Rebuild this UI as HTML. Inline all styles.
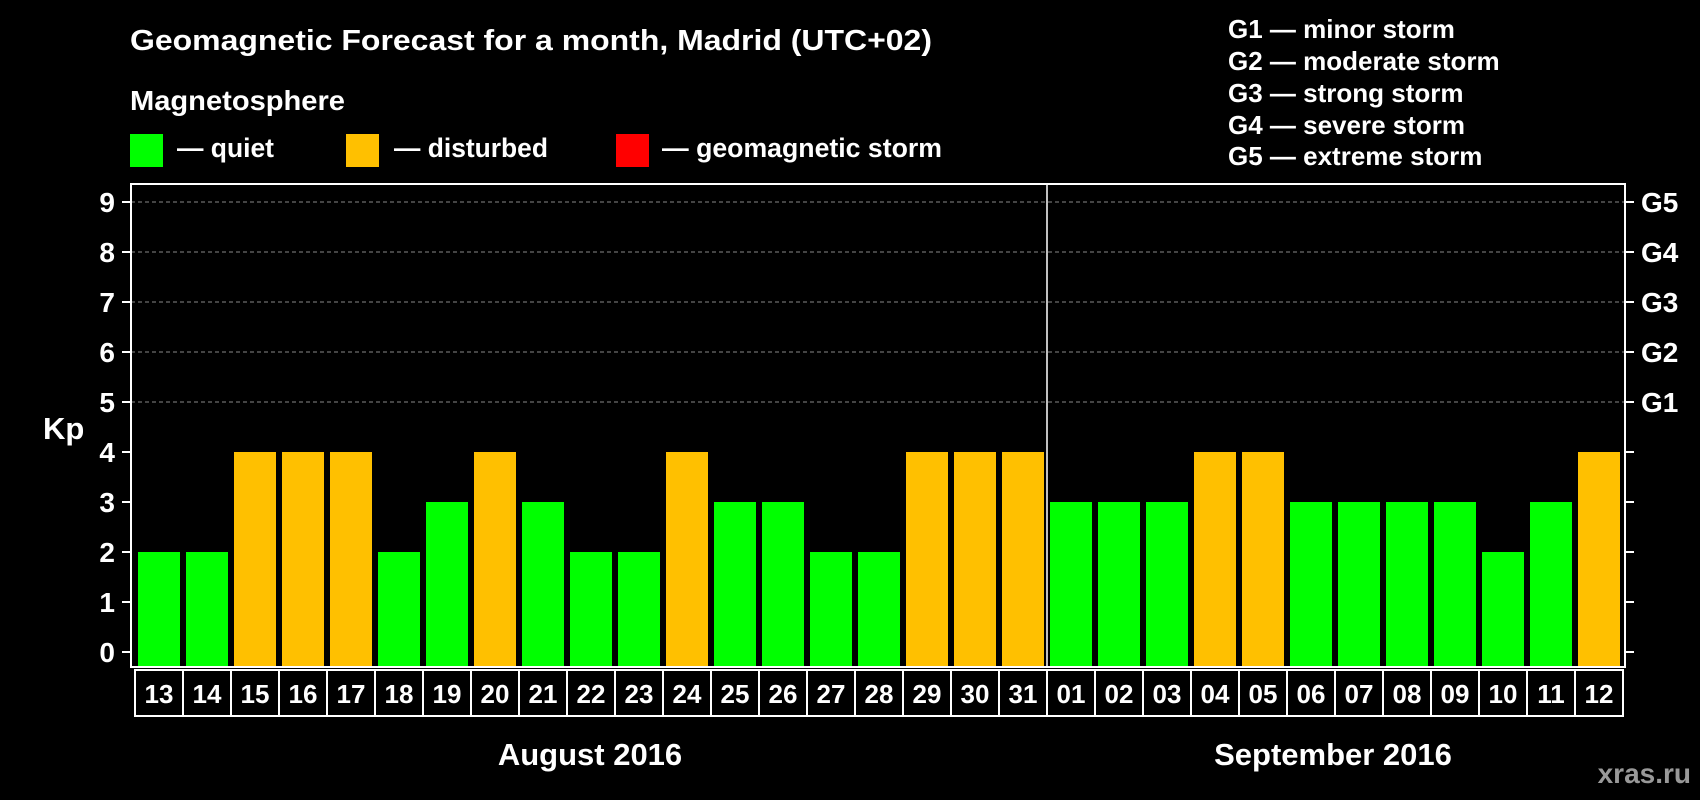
<!DOCTYPE html>
<html><head><meta charset="utf-8"><style>
html,body{margin:0;padding:0;background:#000;}
svg{display:block;font-family:"Liberation Sans",Arial,sans-serif;font-weight:bold;}
</style></head><body>
<svg id="chart" width="1700" height="800" viewBox="0 0 1700 800" xmlns="http://www.w3.org/2000/svg">
<rect width="1700" height="800" fill="#000"/>
<text x="130" y="50" fill="#fff" font-size="29" textLength="802" lengthAdjust="spacingAndGlyphs">Geomagnetic Forecast for a month, Madrid (UTC+02)</text>
<text x="130" y="110" fill="#fff" font-size="28" textLength="215" lengthAdjust="spacingAndGlyphs">Magnetosphere</text>
<g><rect x="130" y="134" width="33" height="33" fill="#00ff00"/><text x="177" y="157" fill="#fff" font-size="27" textLength="97" lengthAdjust="spacingAndGlyphs">— quiet</text></g>
<g><rect x="346" y="134" width="33" height="33" fill="#ffc000"/><text x="394" y="157" fill="#fff" font-size="27" textLength="154" lengthAdjust="spacingAndGlyphs">— disturbed</text></g>
<g><rect x="616" y="134" width="33" height="33" fill="#ff0000"/><text x="662" y="157" fill="#fff" font-size="27" textLength="280" lengthAdjust="spacingAndGlyphs">— geomagnetic storm</text></g>
<g fill="#fff" font-size="26">
<text x="1228" y="38">G1 — minor storm</text>
<text x="1228" y="70">G2 — moderate storm</text>
<text x="1228" y="102">G3 — strong storm</text>
<text x="1228" y="134">G4 — severe storm</text>
<text x="1228" y="165">G5 — extreme storm</text>
</g>
<g id="plot"></g>
<text x="43" y="439" fill="#fff" font-size="31">Kp</text>
<text x="590" y="765" fill="#fff" font-size="31" text-anchor="middle">August 2016</text>
<text x="1333" y="765" fill="#fff" font-size="31" text-anchor="middle">September 2016</text>
<text x="1691" y="783" fill="#999" font-size="28" text-anchor="end">xras.ru</text>
</svg>
<script>
const days = ["13","14","15","16","17","18","19","20","21","22","23","24","25","26","27","28","29","30","31","01","02","03","04","05","06","07","08","09","10","11","12"];
const kpValues = [2,2,4,4,4,2,3,4,3,2,2,4,3,3,2,2,4,4,4,3,3,3,4,4,3,3,3,3,2,3,4];
const yTicks = [0,1,2,3,4,5,6,7,8,9];
const gLabels = ["G1","G2","G3","G4","G5"];
const gLevels = [5,6,7,8,9];
const monthSplitIndex = 19;

const NS = "http://www.w3.org/2000/svg";
const plot = document.getElementById('plot');
const L = 131, R = 1625, T = 184, B = 667;
const y0 = 652, unit = (652 - 202) / 9;
const step = 48, firstX = 138, barW = 42;
function yScale(v){ return y0 - v*unit; }
function xScale(i){ return firstX + i*step; }
function mk(tag, attrs){ const e = document.createElementNS(NS, tag); for (const k in attrs) e.setAttribute(k, attrs[k]); plot.appendChild(e); return e; }

gLevels.forEach(v => {
  const g = mk('line', {x1:L, x2:R, y1:yScale(v), y2:yScale(v), stroke:'#888', 'stroke-width':1, 'stroke-dasharray':'4,3'});
  
  
});
kpValues.forEach((v, i) => {
  const b = mk('rect', {x:xScale(i), y:yScale(v), width:barW, height:B - yScale(v), fill: v >= 5 ? '#ff0000' : (v >= 4 ? '#ffc000' : '#00ff00')});
  
  
});
const fr = mk('rect', {x:L, y:T, width:R-L, height:B-T, fill:'none', stroke:'#fff', 'stroke-width':2});


const dx = xScale(monthSplitIndex) - 3;
const dv = mk('line', {x1:dx, x2:dx, y1:T, y2:B, stroke:'#fff', 'stroke-width':1.5});


yTicks.forEach(v => {
  const y = yScale(v);
  const t1 = mk('line', {x1:122, x2:L, y1:y, y2:y, stroke:'#fff', 'stroke-width':2});
  
  
  const t2 = mk('line', {x1:R, x2:1634, y1:y, y2:y, stroke:'#fff', 'stroke-width':2});
  
  
  const tx = mk('text', {x:115, y:y+10, fill:'#fff', 'font-size':28, 'text-anchor':'end'});
  tx.textContent = v;
  
  
});
gLabels.forEach((g, i) => {
  const tx = mk('text', {x:1641, y:yScale(gLevels[i])+10, fill:'#fff', 'font-size':28});
  tx.textContent = g;
  
  
});
days.forEach((d, i) => {
  const bx = 135 + i*step;
  const r = mk('rect', {x:bx, y:670, width:step, height:46, fill:'none', stroke:'#fff', 'stroke-width':2});
  
  
  const tx = mk('text', {x:bx + step/2, y:703, fill:'#fff', 'font-size':26, 'text-anchor':'middle'});
  tx.textContent = d;
  
  
});
</script>
</body></html>
